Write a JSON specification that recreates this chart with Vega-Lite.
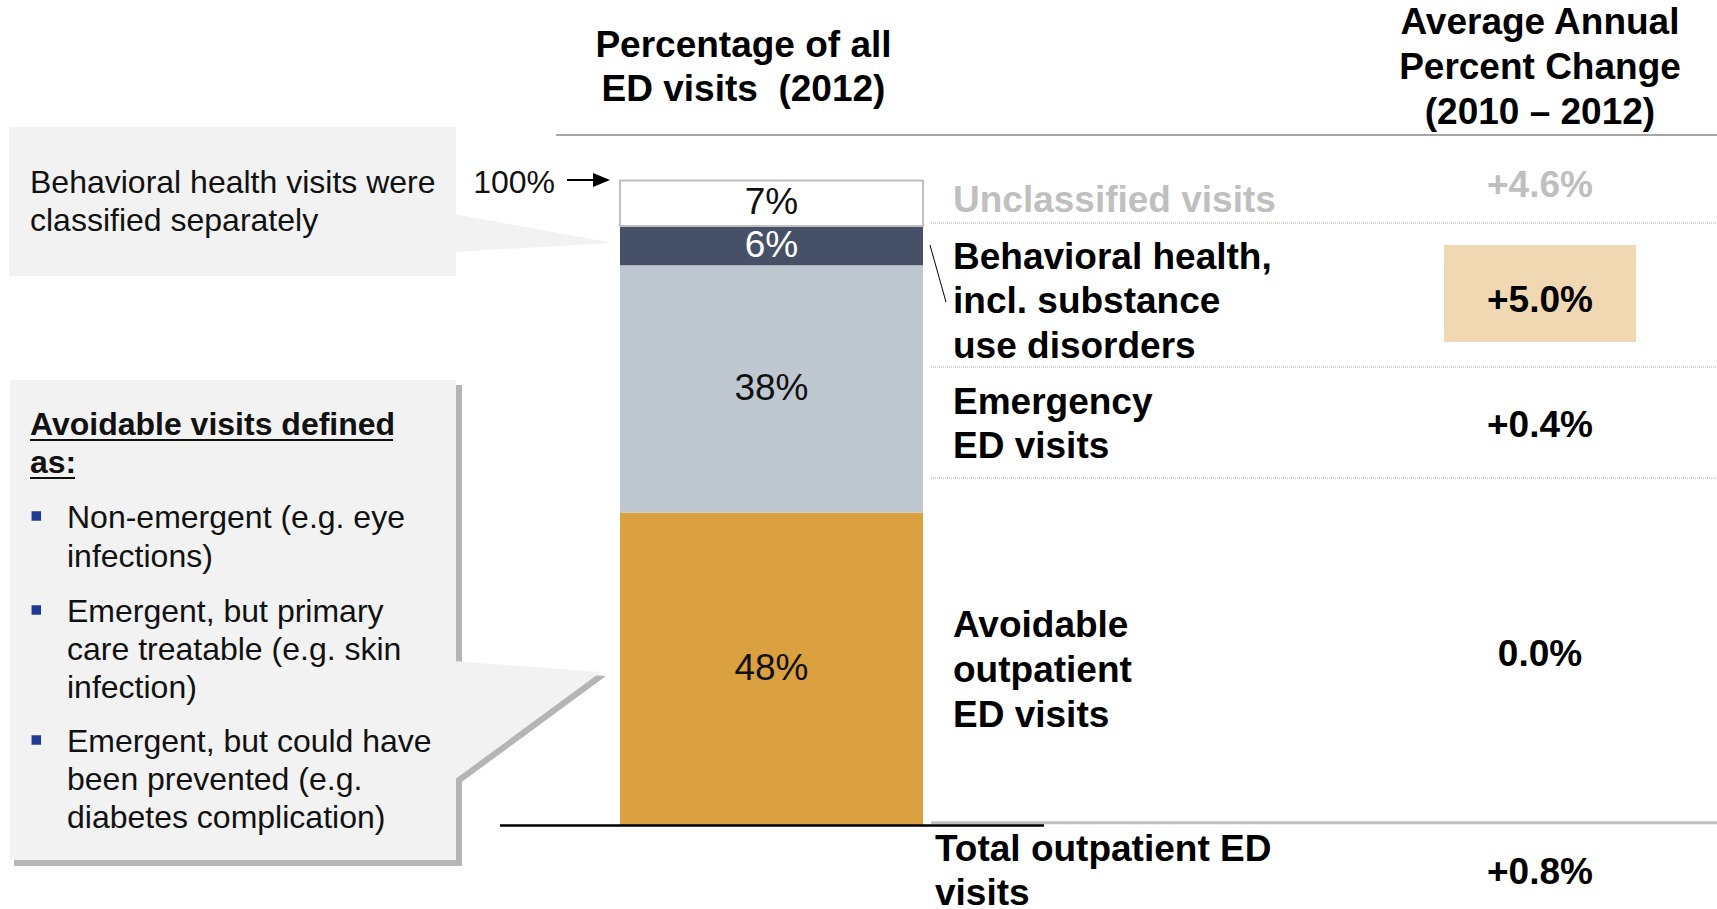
{
  "$schema": "https://vega.github.io/schema/vega-lite/v6.json",
  "width": 1717,
  "height": 909,
  "autosize": {"type": "none"},
  "padding": 0,
  "background": "white",
  "config": {"view": {"stroke": null}, "axis": {"disable": true}, "legend": {"disable": true}, "font": "Liberation Sans"},
  "datasets": {
    "visits": [
      {"category": "Avoidable\noutpatient\nED visits", "share": 48, "change": "0.0%", "stack_order": 1},
      {"category": "Emergency\nED visits", "share": 38, "change": "+0.4%", "stack_order": 2},
      {"category": "Behavioral health,\nincl. substance\nuse disorders", "share": 6, "change": "+5.0%", "stack_order": 3},
      {"category": "Unclassified visits", "share": 7, "change": "+4.6%", "stack_order": 4},
      {"category": "Total outpatient ED\nvisits", "share": null, "change": "+0.8%", "stack_order": 5}
    ]
  },
  "layer": [
    {"data": {"values": [{}]}, "mark": {"type": "rect", "color": "#B5B5B5"},
     "encoding": {"x": {"datum": 0.815, "type": "quantitative", "scale": {"domain": [0, 100], "nice": false, "zero": false}}, "x2": {"datum": 26.907},
                  "y": {"datum": 67.59, "type": "quantitative", "scale": {"domain": [-12.9, 126.73], "nice": false, "zero": false}}, "y2": {"datum": -6.30}}},
    {"data": {"values": [{}]}, "mark": {"type": "point", "filled": true, "opacity": 1, "strokeWidth": 0, "color": "#B5B5B5", "size": 40000, "shape": "M-0.02,-0.595L1.45,-0.485L-0.02,0.595Z"},
     "encoding": {"x": {"datum": 26.849, "type": "quantitative", "scale": {"domain": [0, 100], "nice": false, "zero": false}},
                  "y": {"datum": 15.44, "type": "quantitative", "scale": {"domain": [-12.9, 126.73], "nice": false, "zero": false}}}},
    {"data": {"values": [{}]}, "mark": {"type": "rect", "color": "#F2F2F2"},
     "encoding": {"x": {"datum": 0.582, "type": "quantitative", "scale": {"domain": [0, 100], "nice": false, "zero": false}}, "x2": {"datum": 26.558},
                  "y": {"datum": 68.36, "type": "quantitative", "scale": {"domain": [-12.9, 126.73], "nice": false, "zero": false}}, "y2": {"datum": -5.38}}},
    {"data": {"values": [{}]}, "mark": {"type": "point", "filled": true, "opacity": 1, "strokeWidth": 0, "color": "#F2F2F2", "size": 40000, "shape": "M-0.02,-0.595L1.45,-0.485L-0.02,0.595Z"},
     "encoding": {"x": {"datum": 26.558, "type": "quantitative", "scale": {"domain": [0, 100], "nice": false, "zero": false}},
                  "y": {"datum": 16.05, "type": "quantitative", "scale": {"domain": [-12.9, 126.73], "nice": false, "zero": false}}}},
    {"data": {"values": [{}]}, "mark": {"type": "rect", "color": "#F2F2F2"},
     "encoding": {"x": {"datum": 0.524, "type": "quantitative", "scale": {"domain": [0, 100], "nice": false, "zero": false}}, "x2": {"datum": 26.558},
                  "y": {"datum": 107.22, "type": "quantitative", "scale": {"domain": [-12.9, 126.73], "nice": false, "zero": false}}, "y2": {"datum": 84.33}}},
    {"data": {"values": [{}]}, "mark": {"type": "point", "filled": true, "opacity": 1, "strokeWidth": 0, "color": "#F2F2F2", "size": 40000, "shape": "M-0.02,-0.19L1.57,0.10L-0.02,0.19Z"},
     "encoding": {"x": {"datum": 26.558, "type": "quantitative", "scale": {"domain": [0, 100], "nice": false, "zero": false}},
                  "y": {"datum": 90.94, "type": "quantitative", "scale": {"domain": [-12.9, 126.73], "nice": false, "zero": false}}}},
    {"data": {"values": [{}]}, "mark": {"type": "text", "align": "left", "baseline": "middle", "fontSize": 32, "lineHeight": 38, "color": "#111111"},
     "encoding": {"x": {"datum": 1.747, "type": "quantitative", "scale": {"domain": [0, 100], "nice": false, "zero": false}},
                  "y": {"datum": 98.62, "type": "quantitative", "scale": {"domain": [-12.9, 126.73], "nice": false, "zero": false}},
                  "text": {"value": ["Behavioral health visits were", "classified separately"]}}},
    {"data": {"values": [{}]}, "mark": {"type": "text", "align": "left", "baseline": "middle", "fontSize": 32, "fontWeight": "bold", "lineHeight": 38, "color": "#111111"},
     "encoding": {"x": {"datum": 1.747, "type": "quantitative", "scale": {"domain": [0, 100], "nice": false, "zero": false}},
                  "y": {"datum": 61.44, "type": "quantitative", "scale": {"domain": [-12.9, 126.73], "nice": false, "zero": false}},
                  "text": {"value": ["Avoidable visits defined", "as:"]}}},
    {"data": {"values": [{}]}, "mark": {"type": "rule", "color": "#111111", "strokeWidth": 2},
     "encoding": {"x": {"datum": 1.747, "type": "quantitative", "scale": {"domain": [0, 100], "nice": false, "zero": false}}, "x2": {"datum": 22.889},
                  "y": {"datum": 59.14, "type": "quantitative", "scale": {"domain": [-12.9, 126.73], "nice": false, "zero": false}}}},
    {"data": {"values": [{}]}, "mark": {"type": "rule", "color": "#111111", "strokeWidth": 2},
     "encoding": {"x": {"datum": 1.747, "type": "quantitative", "scale": {"domain": [0, 100], "nice": false, "zero": false}}, "x2": {"datum": 4.368},
                  "y": {"datum": 53.30, "type": "quantitative", "scale": {"domain": [-12.9, 126.73], "nice": false, "zero": false}}}},
    {"data": {"values": [{}]}, "mark": {"type": "point", "shape": "square", "filled": true, "opacity": 1, "strokeWidth": 0, "color": "#1F3A93", "size": 90},
     "encoding": {"x": {"datum": 2.114, "type": "quantitative", "scale": {"domain": [0, 100], "nice": false, "zero": false}},
                  "y": {"datum": 47.47, "type": "quantitative", "scale": {"domain": [-12.9, 126.73], "nice": false, "zero": false}}}},
    {"data": {"values": [{}]}, "mark": {"type": "point", "shape": "square", "filled": true, "opacity": 1, "strokeWidth": 0, "color": "#1F3A93", "size": 90},
     "encoding": {"x": {"datum": 2.114, "type": "quantitative", "scale": {"domain": [0, 100], "nice": false, "zero": false}},
                  "y": {"datum": 33.03, "type": "quantitative", "scale": {"domain": [-12.9, 126.73], "nice": false, "zero": false}}}},
    {"data": {"values": [{}]}, "mark": {"type": "point", "shape": "square", "filled": true, "opacity": 1, "strokeWidth": 0, "color": "#1F3A93", "size": 90},
     "encoding": {"x": {"datum": 2.114, "type": "quantitative", "scale": {"domain": [0, 100], "nice": false, "zero": false}},
                  "y": {"datum": 13.06, "type": "quantitative", "scale": {"domain": [-12.9, 126.73], "nice": false, "zero": false}}}},
    {"data": {"values": [{}]}, "mark": {"type": "text", "align": "left", "baseline": "middle", "fontSize": 32, "lineHeight": 39, "color": "#111111"},
     "encoding": {"x": {"datum": 3.902, "type": "quantitative", "scale": {"domain": [0, 100], "nice": false, "zero": false}},
                  "y": {"datum": 47.16, "type": "quantitative", "scale": {"domain": [-12.9, 126.73], "nice": false, "zero": false}},
                  "text": {"value": ["Non-emergent (e.g. eye", "infections)"]}}},
    {"data": {"values": [{}]}, "mark": {"type": "text", "align": "left", "baseline": "middle", "fontSize": 32, "lineHeight": 38, "color": "#111111"},
     "encoding": {"x": {"datum": 3.902, "type": "quantitative", "scale": {"domain": [0, 100], "nice": false, "zero": false}},
                  "y": {"datum": 32.72, "type": "quantitative", "scale": {"domain": [-12.9, 126.73], "nice": false, "zero": false}},
                  "text": {"value": ["Emergent, but primary", "care treatable (e.g. skin", "infection)"]}}},
    {"data": {"values": [{}]}, "mark": {"type": "text", "align": "left", "baseline": "middle", "fontSize": 32, "lineHeight": 38, "color": "#111111"},
     "encoding": {"x": {"datum": 3.902, "type": "quantitative", "scale": {"domain": [0, 100], "nice": false, "zero": false}},
                  "y": {"datum": 12.75, "type": "quantitative", "scale": {"domain": [-12.9, 126.73], "nice": false, "zero": false}},
                  "text": {"value": ["Emergent, but could have", "been prevented (e.g.", "diabetes complication)"]}}},
    {"data": {"values": [{}]}, "mark": {"type": "text", "align": "center", "baseline": "middle", "fontSize": 37, "fontWeight": "bold", "lineHeight": 44, "color": "#000000"},
     "encoding": {"x": {"datum": 43.30, "type": "quantitative", "scale": {"domain": [0, 100], "nice": false, "zero": false}},
                  "y": {"datum": 119.66, "type": "quantitative", "scale": {"domain": [-12.9, 126.73], "nice": false, "zero": false}},
                  "text": {"value": ["Percentage of all", "ED visits\u00a0 (2012)"]}}},
    {"data": {"values": [{}]}, "mark": {"type": "text", "align": "center", "baseline": "middle", "fontSize": 37, "fontWeight": "bold", "lineHeight": 45, "color": "#000000"},
     "encoding": {"x": {"datum": 89.69, "type": "quantitative", "scale": {"domain": [0, 100], "nice": false, "zero": false}},
                  "y": {"datum": 123.20, "type": "quantitative", "scale": {"domain": [-12.9, 126.73], "nice": false, "zero": false}},
                  "text": {"value": ["Average Annual", "Percent Change", "(2010 – 2012)"]}}},
    {"data": {"values": [{}]}, "mark": {"type": "rule", "color": "#A6A6A6", "strokeWidth": 2},
     "encoding": {"x": {"datum": 32.382, "type": "quantitative", "scale": {"domain": [0, 100], "nice": false, "zero": false}}, "x2": {"datum": 100},
                  "y": {"datum": 105.99, "type": "quantitative", "scale": {"domain": [-12.9, 126.73], "nice": false, "zero": false}}}},
    {"data": {"values": [{}]}, "mark": {"type": "text", "align": "right", "baseline": "middle", "fontSize": 32, "color": "#111111"},
     "encoding": {"x": {"datum": 32.324, "type": "quantitative", "scale": {"domain": [0, 100], "nice": false, "zero": false}},
                  "y": {"datum": 98.62, "type": "quantitative", "scale": {"domain": [-12.9, 126.73], "nice": false, "zero": false}},
                  "text": {"value": "100%"}}},
    {"data": {"values": [{}]}, "mark": {"type": "rule", "color": "#000000", "strokeWidth": 2},
     "encoding": {"x": {"datum": 33.022, "type": "quantitative", "scale": {"domain": [0, 100], "nice": false, "zero": false}}, "x2": {"datum": 34.712},
                  "y": {"datum": 99.08, "type": "quantitative", "scale": {"domain": [-12.9, 126.73], "nice": false, "zero": false}}}},
    {"data": {"values": [{}]}, "mark": {"type": "point", "filled": true, "opacity": 1, "strokeWidth": 0, "color": "#000000", "size": 400, "shape": "M0,0L-1.7,-0.7L-1.7,0.7Z"},
     "encoding": {"x": {"datum": 35.527, "type": "quantitative", "scale": {"domain": [0, 100], "nice": false, "zero": false}},
                  "y": {"datum": 99.08, "type": "quantitative", "scale": {"domain": [-12.9, 126.73], "nice": false, "zero": false}}}},
    {"data": {"name": "visits"},
     "transform": [{"filter": "isValid(datum.share)"}, {"stack": "share", "groupby": [], "sort": [{"field": "stack_order", "order": "ascending"}], "as": ["share_lo", "share_hi"]}],
     "mark": {"type": "bar", "strokeWidth": 2},
     "encoding": {"x": {"datum": 36.110, "type": "quantitative", "scale": {"domain": [0, 100], "nice": false, "zero": false}}, "x2": {"datum": 53.756},
                  "y": {"field": "share_lo", "type": "quantitative", "scale": {"domain": [-12.9, 126.73], "nice": false, "zero": false}}, "y2": {"field": "share_hi"},
                  "fill": {"field": "category", "type": "nominal", "legend": null, "scale": {"domain": ["Avoidable\noutpatient\nED visits", "Emergency\nED visits", "Behavioral health,\nincl. substance\nuse disorders", "Unclassified visits"], "range": ["#DBA040", "#BFC7D1", "#465066", "#FFFFFF"]}},
                  "stroke": {"field": "category", "type": "nominal", "legend": null, "scale": {"domain": ["Avoidable\noutpatient\nED visits", "Emergency\nED visits", "Behavioral health,\nincl. substance\nuse disorders", "Unclassified visits"], "range": ["transparent", "transparent", "transparent", "#BFBFBF"]}}}},
    {"data": {"name": "visits"},
     "transform": [{"filter": "isValid(datum.share)"}, {"stack": "share", "groupby": [], "sort": [{"field": "stack_order", "order": "ascending"}], "as": ["share_lo", "share_hi"]},
                   {"calculate": "(datum.share_lo + datum.share_hi) / 2", "as": "share_mid"}, {"calculate": "datum.share + '%'", "as": "share_label"}],
     "mark": {"type": "text", "align": "center", "baseline": "middle", "fontSize": 37},
     "encoding": {"x": {"datum": 44.933, "type": "quantitative", "scale": {"domain": [0, 100], "nice": false, "zero": false}},
                  "y": {"field": "share_mid", "type": "quantitative", "scale": {"domain": [-12.9, 126.73], "nice": false, "zero": false}},
                  "text": {"field": "share_label"},
                  "fill": {"condition": {"test": "datum.stack_order === 3", "value": "#FFFFFF"}, "value": "#111111"}}},
    {"data": {"values": [{}]}, "mark": {"type": "rect", "color": "#F0D8B2"},
     "encoding": {"x": {"datum": 84.100, "type": "quantitative", "scale": {"domain": [0, 100], "nice": false, "zero": false}}, "x2": {"datum": 95.283},
                  "y": {"datum": 89.09, "type": "quantitative", "scale": {"domain": [-12.9, 126.73], "nice": false, "zero": false}}, "y2": {"datum": 74.19}}},
    {"data": {"values": [{}]}, "mark": {"type": "rule", "color": "#A6A6A6", "strokeWidth": 1, "strokeDash": [1, 1]},
     "encoding": {"x": {"datum": 54.222, "type": "quantitative", "scale": {"domain": [0, 100], "nice": false, "zero": false}}, "x2": {"datum": 100},
                  "y": {"datum": 92.47, "type": "quantitative", "scale": {"domain": [-12.9, 126.73], "nice": false, "zero": false}}}},
    {"data": {"values": [{}]}, "mark": {"type": "rule", "color": "#A6A6A6", "strokeWidth": 1, "strokeDash": [1, 1]},
     "encoding": {"x": {"datum": 54.222, "type": "quantitative", "scale": {"domain": [0, 100], "nice": false, "zero": false}}, "x2": {"datum": 100},
                  "y": {"datum": 70.35, "type": "quantitative", "scale": {"domain": [-12.9, 126.73], "nice": false, "zero": false}}}},
    {"data": {"values": [{}]}, "mark": {"type": "rule", "color": "#A6A6A6", "strokeWidth": 1, "strokeDash": [1, 1]},
     "encoding": {"x": {"datum": 54.222, "type": "quantitative", "scale": {"domain": [0, 100], "nice": false, "zero": false}}, "x2": {"datum": 100},
                  "y": {"datum": 53.30, "type": "quantitative", "scale": {"domain": [-12.9, 126.73], "nice": false, "zero": false}}}},
    {"data": {"values": [{}]}, "mark": {"type": "rule", "color": "#C0C0C0", "strokeWidth": 3},
     "encoding": {"x": {"datum": 54.222, "type": "quantitative", "scale": {"domain": [0, 100], "nice": false, "zero": false}}, "x2": {"datum": 100},
                  "y": {"datum": 0.35, "type": "quantitative", "scale": {"domain": [-12.9, 126.73], "nice": false, "zero": false}}}},
    {"data": {"values": [{}]}, "mark": {"type": "rule", "color": "#000000", "strokeWidth": 2.5},
     "encoding": {"x": {"datum": 29.121, "type": "quantitative", "scale": {"domain": [0, 100], "nice": false, "zero": false}}, "x2": {"datum": 60.804},
                  "y": {"datum": -0.08, "type": "quantitative", "scale": {"domain": [-12.9, 126.73], "nice": false, "zero": false}}}},
    {"data": {"values": [{}]}, "mark": {"type": "rule", "color": "#000000", "strokeWidth": 1},
     "encoding": {"x": {"datum": 54.164, "type": "quantitative", "scale": {"domain": [0, 100], "nice": false, "zero": false}}, "x2": {"datum": 55.096},
                  "y": {"datum": 89.09, "type": "quantitative", "scale": {"domain": [-12.9, 126.73], "nice": false, "zero": false}}, "y2": {"datum": 80.34}}},
    {"data": {"name": "visits"}, "transform": [{"filter": "datum.stack_order === 4"}],
     "mark": {"type": "text", "align": "left", "baseline": "middle", "fontSize": 37, "fontWeight": "bold", "lineBreak": "\n", "lineHeight": 44, "color": "#BFBFBF"},
     "encoding": {"x": {"datum": 55.504, "type": "quantitative", "scale": {"domain": [0, 100], "nice": false, "zero": false}},
                  "y": {"datum": 95.85, "type": "quantitative", "scale": {"domain": [-12.9, 126.73], "nice": false, "zero": false}},
                  "text": {"field": "category"}}},
    {"data": {"name": "visits"}, "transform": [{"filter": "datum.stack_order === 3"}],
     "mark": {"type": "text", "align": "left", "baseline": "middle", "fontSize": 37, "fontWeight": "bold", "lineBreak": "\n", "lineHeight": 44.5, "color": "#000000"},
     "encoding": {"x": {"datum": 55.504, "type": "quantitative", "scale": {"domain": [0, 100], "nice": false, "zero": false}},
                  "y": {"datum": 87.10, "type": "quantitative", "scale": {"domain": [-12.9, 126.73], "nice": false, "zero": false}},
                  "text": {"field": "category"}}},
    {"data": {"name": "visits"}, "transform": [{"filter": "datum.stack_order === 2"}],
     "mark": {"type": "text", "align": "left", "baseline": "middle", "fontSize": 37, "fontWeight": "bold", "lineBreak": "\n", "lineHeight": 44, "color": "#000000"},
     "encoding": {"x": {"datum": 55.504, "type": "quantitative", "scale": {"domain": [0, 100], "nice": false, "zero": false}},
                  "y": {"datum": 64.82, "type": "quantitative", "scale": {"domain": [-12.9, 126.73], "nice": false, "zero": false}},
                  "text": {"field": "category"}}},
    {"data": {"name": "visits"}, "transform": [{"filter": "datum.stack_order === 1"}],
     "mark": {"type": "text", "align": "left", "baseline": "middle", "fontSize": 37, "fontWeight": "bold", "lineBreak": "\n", "lineHeight": 45, "color": "#000000"},
     "encoding": {"x": {"datum": 55.504, "type": "quantitative", "scale": {"domain": [0, 100], "nice": false, "zero": false}},
                  "y": {"datum": 30.57, "type": "quantitative", "scale": {"domain": [-12.9, 126.73], "nice": false, "zero": false}},
                  "text": {"field": "category"}}},
    {"data": {"name": "visits"}, "transform": [{"filter": "datum.stack_order === 5"}],
     "mark": {"type": "text", "align": "left", "baseline": "middle", "fontSize": 37, "fontWeight": "bold", "lineBreak": "\n", "lineHeight": 44, "color": "#000000"},
     "encoding": {"x": {"datum": 54.455, "type": "quantitative", "scale": {"domain": [0, 100], "nice": false, "zero": false}},
                  "y": {"datum": -3.84, "type": "quantitative", "scale": {"domain": [-12.9, 126.73], "nice": false, "zero": false}},
                  "text": {"field": "category"}}},
    {"data": {"name": "visits"}, "transform": [{"filter": "datum.stack_order === 4"}],
     "mark": {"type": "text", "align": "center", "baseline": "middle", "fontSize": 37, "fontWeight": "bold", "color": "#BFBFBF"},
     "encoding": {"x": {"datum": 89.69, "type": "quantitative", "scale": {"domain": [0, 100], "nice": false, "zero": false}},
                  "y": {"datum": 98.16, "type": "quantitative", "scale": {"domain": [-12.9, 126.73], "nice": false, "zero": false}},
                  "text": {"field": "change"}}},
    {"data": {"name": "visits"}, "transform": [{"filter": "datum.stack_order === 3"}],
     "mark": {"type": "text", "align": "center", "baseline": "middle", "fontSize": 37, "fontWeight": "bold", "color": "#000000"},
     "encoding": {"x": {"datum": 89.69, "type": "quantitative", "scale": {"domain": [0, 100], "nice": false, "zero": false}},
                  "y": {"datum": 80.49, "type": "quantitative", "scale": {"domain": [-12.9, 126.73], "nice": false, "zero": false}},
                  "text": {"field": "change"}}},
    {"data": {"name": "visits"}, "transform": [{"filter": "datum.stack_order === 2"}],
     "mark": {"type": "text", "align": "center", "baseline": "middle", "fontSize": 37, "fontWeight": "bold", "color": "#000000"},
     "encoding": {"x": {"datum": 89.69, "type": "quantitative", "scale": {"domain": [0, 100], "nice": false, "zero": false}},
                  "y": {"datum": 61.29, "type": "quantitative", "scale": {"domain": [-12.9, 126.73], "nice": false, "zero": false}},
                  "text": {"field": "change"}}},
    {"data": {"name": "visits"}, "transform": [{"filter": "datum.stack_order === 1"}],
     "mark": {"type": "text", "align": "center", "baseline": "middle", "fontSize": 37, "fontWeight": "bold", "color": "#000000"},
     "encoding": {"x": {"datum": 89.69, "type": "quantitative", "scale": {"domain": [0, 100], "nice": false, "zero": false}},
                  "y": {"datum": 26.11, "type": "quantitative", "scale": {"domain": [-12.9, 126.73], "nice": false, "zero": false}},
                  "text": {"field": "change"}}},
    {"data": {"name": "visits"}, "transform": [{"filter": "datum.stack_order === 5"}],
     "mark": {"type": "text", "align": "center", "baseline": "middle", "fontSize": 37, "fontWeight": "bold", "color": "#000000"},
     "encoding": {"x": {"datum": 89.69, "type": "quantitative", "scale": {"domain": [0, 100], "nice": false, "zero": false}},
                  "y": {"datum": -7.37, "type": "quantitative", "scale": {"domain": [-12.9, 126.73], "nice": false, "zero": false}},
                  "text": {"field": "change"}}}
  ]
}
